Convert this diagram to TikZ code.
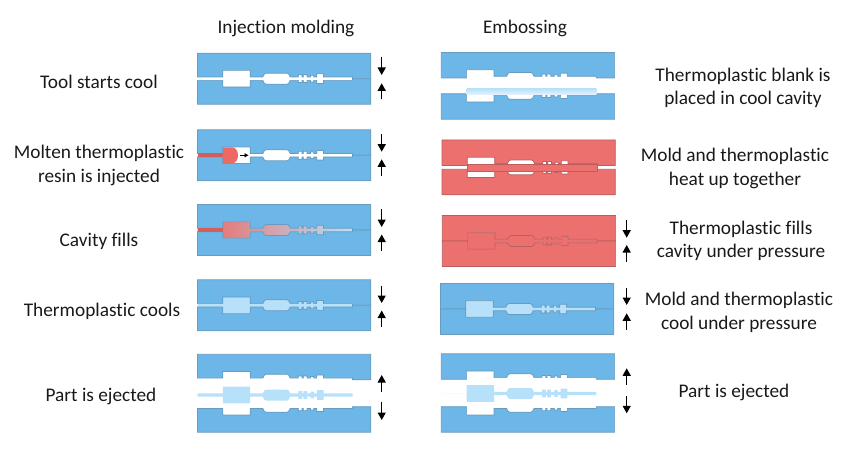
\documentclass[tikz,border=0pt]{standalone}
\usepackage{fontspec}
\setmainfont[Ligatures=NoCommon]{Carlito}
\usetikzlibrary{arrows.meta}
\definecolor{moldblue}{RGB}{108,182,232}
\definecolor{moldedge}{RGB}{105,155,190}
\definecolor{moldred}{RGB}{236,112,110}
\definecolor{rededge}{RGB}{185,95,95}
\definecolor{partblue}{RGB}{183,224,250}
\definecolor{meltred}{RGB}{236,105,100}
\tikzset{
  moldb/.style={fill=moldblue,draw=moldedge,line width=.7pt},
  moldr/.style={fill=moldred,draw=rededge,line width=.7pt},
  part/.style={fill=partblue},
  label/.style={font=\fontsize{19.3}{23.6}\selectfont,align=center,text=black!90},
  press/.style={-{Triangle[length=7.5pt,width=8pt]},line width=1.3pt,black}
}
% half of the cavity: #1 = side (-1 up, 1 down), #2 = height of the left end
\newcommand{\cavity}[2]{(0,#2*#1) -- (25.3,#2*#1) -- (25.3,8.3*#1) -- (52.7,8.3*#1)
  -- (52.7,1.7*#1) -- (65.3,1.7*#1) -- (66.8,4.6*#1) -- (68.5,5.5*#1) -- (89.5,5.5*#1) -- (91.2,4.6*#1) -- (92.7,1.7*#1)
  -- (100.8,1.7*#1) -- (100.8,3.9*#1) -- (104.5,3.9*#1) -- (104.5,1.7*#1)
  -- (105.8,1.7*#1) -- (105.8,3.9*#1) -- (109.5,3.9*#1) -- (109.5,1.7*#1)
  -- (113,1.7*#1) -- (113,3.3*#1) -- (116.3,3.3*#1) -- (116.3,1.7*#1)
  -- (119.3,1.7*#1) -- (119.3,4.8*#1) -- (126,4.8*#1) -- (126,1.7*#1)
  -- (155,1.7*#1) -- (155,0)}
% #1 style, #2 left, #3 upper half, #4 lower half, #5 height of the left end
\newcommand{\moldpair}[5]{
  \path[#1,shift={(#2,#3)}] \cavity{-1}{#5} -- (173.3,0) -- (173.3,-25.5) -- (0,-25.5) -- cycle;
  \path[#1,shift={(#2,#4)}] \cavity{1}{#5} -- (173.3,0) -- (173.3,25.5) -- (0,25.5) -- cycle;
}
% #1 style, #2 left, #3 middle, #4 height of the left end
\newcommand{\partin}[4]{
  \path[#1,shift={(#2,#3)}] \cavity{-1}{#4} -- (0,0) -- cycle \cavity{1}{#4} -- (0,0) -- cycle;
}
\begin{document}
\begin{tikzpicture}[x=1pt,y=-1pt]
\useasboundingbox (0,0) rectangle (859,457);

\node[label] (headinj) at (286,28.5) {Injection molding};
\node[label] (heademb) at (525,28.5) {Embossing};

\node[label] (toolcool) at (99,81.5) {Tool starts cool};
\node[label] (molten) at (99,165.5) {Molten thermoplastic\\resin is injected};
\node[label] (fills) at (99,241.5) {Cavity fills};
\node[label] (cools) at (102,311) {Thermoplastic cools};
\node[label] (ejectl) at (101,396) {Part is ejected};

\node[label] (blank) at (743,88) {Thermoplastic blank is\\placed in cool cavity};
\node[label] (heat) at (735,168.5) {Mold and thermoplastic\\heat up together};
\node[label] (fillsp) at (741,241) {Thermoplastic fills\\cavity under pressure};
\node[label] (coolp) at (739,312.5) {Mold and thermoplastic\\cool under pressure};
\node[label] (ejectr) at (734,392) {Part is ejected};

% injection molding
\moldpair{moldb}{197.5}{78.7}{78.7}{1.7}

\moldpair{moldb}{197.5}{155.3}{155.3}{1.7}
\fill[meltred!90!black] (197.5,153.3) rectangle (223,157.3);
\fill[meltred] (222.8,147.3) -- (232,147.3) .. controls (240,147.3) and (240,163.3) .. (232,163.3) -- (222.8,163.3) -- cycle;
\draw[-{Triangle[length=4pt,width=4pt]},line width=.7pt,black] (240,155.3) -- (248.5,155.3);

\partin{shade,left color=meltred,middle color=meltred!92!partblue,right color=partblue}{197.5}{230}{1.7}
\moldpair{moldb}{197.5}{230}{230}{1.7}
\fill[meltred!90!black] (197.5,228.3) rectangle (223,231.7);

\partin{part}{197.5}{305.3}{1.7}
\moldpair{moldb}{197.5}{305.3}{305.3}{1.7}

\moldpair{moldb}{197.5}{379.8}{406.7}{1.7}
\partin{part}{197.5}{395}{1.7}

% embossing
\moldpair{moldb}{441.3}{78}{93.7}{0}
\shade[top color=partblue,bottom color=partblue!35!white] (466.6,88.3) rectangle (596.3,95);

\moldpair{moldr}{442}{165.5}{169.3}{0}
\draw[fill=moldred,draw=rededge,line width=.6pt] (467.3,164) rectangle (597,171);

\partin{fill=moldred}{442.3}{241}{0}
\moldpair{moldr}{442.3}{241}{241}{0}

\partin{part}{440.5}{309}{0}
\moldpair{moldb}{440.5}{309}{309}{0}

\moldpair{moldb}{441.3}{379.3}{406.7}{0}
\partin{part}{441.3}{393.5}{0}

% arrows
\foreach \x/\ya/\yb/\yc/\yd in {381.7/56.7/75/99.3/83.3, 381.7/134/151.7/176/159.3,
  381.7/209.5/227/251/234.5, 381.7/285.5/303/327/310.5,
  626.7/220/237.7/261.7/245, 626.7/287.7/305/330/313.3}{
  \draw[press] (\x,\ya) -- (\x,\yb);
  \draw[press] (\x,\yc) -- (\x,\yd);
}
\foreach \x/\ya/\yb/\yc/\yd in {381.7/391.7/375/401.7/420, 626.7/385/368.3/395.7/413.3}{
  \draw[press] (\x,\ya) -- (\x,\yb);
  \draw[press] (\x,\yc) -- (\x,\yd);
}
\end{tikzpicture}
\end{document}
